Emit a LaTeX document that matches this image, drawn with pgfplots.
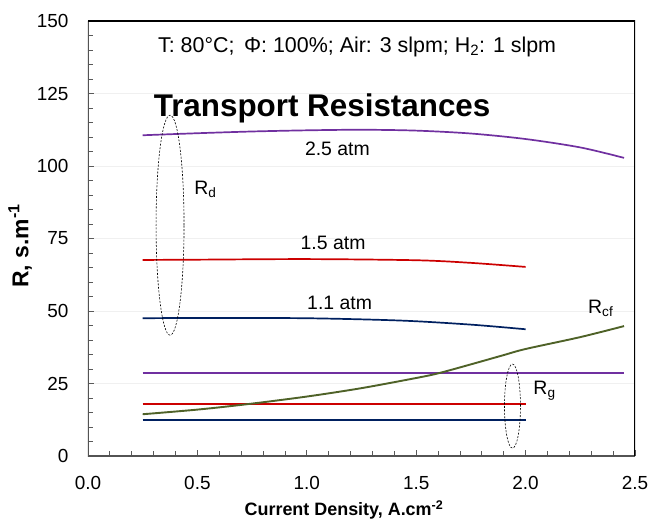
\documentclass[border=0pt]{standalone}
\usepackage{pgfplots}
\pgfplotsset{compat=1.18}
\usepackage{fontspec}
\setmainfont{Liberation Sans}
\definecolor{cpurple}{RGB}{112,48,160}
\definecolor{cred}{RGB}{204,0,0}
\definecolor{cnavy}{RGB}{0,32,96}
\definecolor{cgreen}{RGB}{79,98,40}
\begin{document}
\begin{tikzpicture}
\begin{axis}[name=ax, scale only axis, width=547bp, height=435bp,
  xmin=0, xmax=2.5, ymin=0, ymax=150,
  xtick={0,0.5,1,1.5,2,2.5}, ytick={0,25,50,75,100,125,150},
  minor x tick num=4, minor y tick num=4,
  tick align=inside, xtick pos=left, ytick pos=left,
  major tick length=6bp, minor tick length=5bp,
  tick style={gray!70!black, line width=0.8bp},
  axis line style={draw=none},
  ymajorgrids, major grid style={gray!12, line width=0.5bp},
  /pgf/number format/assume math mode=true,
  ticklabel style={font=\fontsize{19}{21}\selectfont},
  xticklabel style={yshift=-17bp, /pgf/number format/.cd, fixed, fixed zerofill, precision=1},
  yticklabel style={xshift=-16bp},
  xlabel={\textbf{Current Density, A.cm\textsuperscript{-2}}},
  ylabel={\textbf{R, s.m\textsuperscript{-1}}},
  xlabel style={font=\fontsize{18}{21}\selectfont, at={(axis description cs:0.468,-0.124)}, anchor=center},
  ylabel style={font=\fontsize{23}{26}\selectfont, at={(axis description cs:-0.124,0.483)}, anchor=center},
]
% frame
\draw[gray!65!black, line width=2.2bp] (rel axis cs:0,1) -- (rel axis cs:0,0) -- (rel axis cs:1,0);
\draw[black, line width=1.3bp] (rel axis cs:0,1) -- (rel axis cs:1,1) -- (rel axis cs:1,0);
% R_d
\addplot[cpurple, line width=1.7bp, smooth] coordinates {
(0.25,110.6) (0.5,111.3) (0.75,111.9) (1.0,112.3) (1.25,112.5) (1.5,112.2) (1.75,111.2) (2.0,109.3) (2.25,106.4) (2.45,102.8)};
\addplot[cred, line width=1.7bp, smooth] coordinates {
(0.25,67.6) (0.5,67.7) (1.0,67.9) (1.5,67.5) (1.75,66.6) (2.0,65.2)};
\addplot[cnavy, line width=1.7bp, smooth] coordinates {
(0.25,47.5) (0.5,47.6) (1.0,47.5) (1.43,46.7) (1.75,45.3) (2.0,43.7)};
% R_g
\addplot[cpurple, line width=1.9bp] coordinates {(0.25,28.5) (2.45,28.5)};
\addplot[cred, line width=1.9bp] coordinates {(0.25,17.8) (2.0,17.8)};
\addplot[cnavy, line width=1.9bp] coordinates {(0.25,12.4) (2.0,12.4)};
% R_cf
\addplot[cgreen, line width=1.9bp, smooth] coordinates {
(0.25,14.4) (0.5,16.0) (0.72,17.8) (1.0,20.5) (1.25,23.4) (1.5,26.9) (1.6,28.5) (1.75,31.6) (1.9,34.8) (2.0,36.9) (2.25,41.0) (2.45,44.8)};
% ellipses
\draw[black, line width=0.6bp, dash pattern=on 2bp off 1.5bp] (axis cs:0.375,79.6) ellipse [x radius=14bp, y radius=110bp];
\draw[black, line width=0.6bp, dash pattern=on 2bp off 1.5bp] (axis cs:1.94,17.2) ellipse [x radius=8bp, y radius=42bp];
% texts
\node[font=\fontsize{21.5}{24}\selectfont] at (axis cs:1.23,141) {T: 80°C;\, Φ: 100\%; Air: 3 slpm; H\textsubscript{2}: 1 slpm};
\node[font=\fontsize{31.5}{34}\selectfont\bfseries] at (axis cs:1.07,120) {Transport Resistances};
\node[font=\fontsize{19.5}{21}\selectfont] at (axis cs:1.14,105.9) {2.5 atm};
\node[font=\fontsize{19.5}{21}\selectfont] at (axis cs:1.12,73.4) {1.5 atm};
\node[font=\fontsize{19.5}{21}\selectfont] at (axis cs:1.15,52.7) {1.1 atm};
\node[font=\fontsize{19.5}{21}\selectfont, anchor=west] at (axis cs:0.47,92) {R\textsubscript{d}};
\node[font=\fontsize{19.5}{21}\selectfont, anchor=west] at (axis cs:2.27,51) {R\textsubscript{cf}};
\node[font=\fontsize{19.5}{21}\selectfont, anchor=west] at (axis cs:2.02,22.5) {R\textsubscript{g}};
\end{axis}
\pgfresetboundingbox
\path ([shift={(-88bp,-71bp)}]ax.south west) rectangle ([shift={(19bp,21bp)}]ax.north east);
\end{tikzpicture}
\end{document}
